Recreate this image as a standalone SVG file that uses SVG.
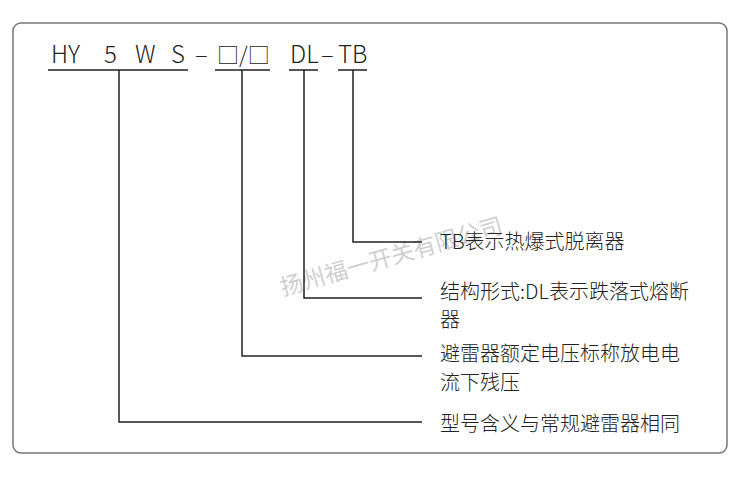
<svg xmlns="http://www.w3.org/2000/svg" width="750" height="493" viewBox="0 0 750 493">
<style>
.code{font-family:"Noto Sans CJK SC","Noto Sans",sans-serif;font-size:24px;font-weight:300;fill:#222}
.box{font-family:"Noto Sans CJK SC","Noto Sans",sans-serif;font-size:22px;font-weight:300;fill:#222}
.lbl{font-family:"Noto Sans CJK SC","Noto Sans",sans-serif;font-size:20px;font-weight:300;fill:#222}
.wm{font-family:"Noto Sans CJK SC",sans-serif;font-size:23px;fill:#cfcfcf}
.ln{stroke:#222;stroke-width:1.5;fill:none}
</style>
<rect x="13" y="23" width="714" height="430" rx="8" fill="#fff" stroke="#777" stroke-width="1.5"/>
<text class="wm" transform="translate(283,296) rotate(-16)">扬州福一开关有限公司</text>
<g id="code">
<text class="code" x="51" y="63">HY</text>
<text class="code" x="104" y="63">5</text>
<text class="code" x="135" y="63">W</text>
<text class="code" x="171" y="63">S</text>
<text class="code" x="195" y="63">–</text>
<text class="box" x="217" y="63">□/□</text>
<text class="code" x="290" y="63">DL</text>
<text class="code" x="321" y="63">–</text>
<text class="code" x="338" y="63">TB</text>
</g>
<g id="connectors">
<path class="ln" d="M48 70H188M119 70V422H422"/>
<path class="ln" d="M215 70H270M242 70V356H422"/>
<path class="ln" d="M289 70H318M304 70V298H422"/>
<path class="ln" d="M338 70H367M353 70V242H422"/>
</g>
<g id="label-tb"><text class="lbl" x="440" y="249">TB表示热爆式脱离器</text></g>
<g id="label-dl"><text class="lbl" x="440" y="299">结构形式:DL表示跌落式熔断</text><text class="lbl" x="440" y="327">器</text></g>
<g id="label-box"><text class="lbl" x="440" y="361">避雷器额定电压标称放电电</text><text class="lbl" x="440" y="390">流下残压</text></g>
<g id="label-hy"><text class="lbl" x="440" y="431">型号含义与常规避雷器相同</text></g>
</svg>
